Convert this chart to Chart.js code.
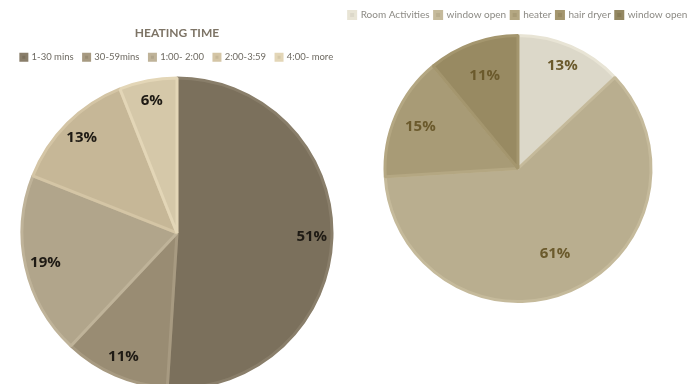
<!DOCTYPE html>
<html lang="en">
<head>
  <meta charset="UTF-8" />
  <title>Heating Time / Room Activities</title>
  <script src="https://cdn.jsdelivr.net/npm/chart.js"></script>
  <style>
    html, body {
      margin: 0;
      padding: 0;
      width: 688px;
      height: 384px;
      overflow: hidden;
      background: #ffffff;
    }
    #kiri, #kanan {
      position: absolute;
      top: 0;
    }
    #kiri { left: 0; }
    #kanan { left: 338px; }
  </style>
</head>
<body>
  <canvas id="kiri" width="354" height="400"></canvas>
  <canvas id="kanan" width="360" height="384"></canvas>

  <script>
    // Data pie kiri (heating time)
    const waktuLabels = ['1-30 mins', '30-59mins', '1:00- 2:00', '2:00-3:59', '4:00- more'];
    const waktuPersen = [51, 11, 19, 13, 6];
    const waktuWarna = ['#7b705c', '#998c73', '#b1a58b', '#c6b797', '#d5c8a9'];

    // Data pie kanan (room activities)
    const aktivitasLabels = ['Room Activities', 'window open', 'heater', 'hair dryer', 'window open'];
    const aktivitasPersen = [13, 61, 15, 11, 0];
    const aktivitasWarna = ['#dcd8c9', '#b9ae8f', '#a89b76', '#988a62', '#877b55'];

    // Plugin label persen di dalam irisan
    const labelPersen = {
      id: 'labelPersen',
      afterDatasetsDraw(chart, args, opts) {
        const ctx = chart.ctx;
        const meta = chart.getDatasetMeta(0);
        const data = chart.data.datasets[0].data;
        ctx.save();
        ctx.font = opts.font;
        ctx.fillStyle = opts.color;
        ctx.textAlign = 'center';
        ctx.textBaseline = 'middle';
        meta.data.forEach((arc, i) => {
          if (!data[i]) return;
          const f = Array.isArray(opts.factor) ? opts.factor[i] : opts.factor;
          const tengah = (arc.startAngle + arc.endAngle) / 2;
          const r = arc.outerRadius * f;
          ctx.fillText(data[i] + '%', arc.x + Math.cos(tengah) * r, arc.y + Math.sin(tengah) * r);
        });
        ctx.restore();
      }
    };

    function lebihTerang(hex, n) {
      const v = parseInt(hex.slice(1), 16);
      const r = Math.min(255, (v >> 16) + n);
      const g = Math.min(255, ((v >> 8) & 255) + n);
      const b = Math.min(255, (v & 255) + n);
      return `rgb(${r},${g},${b})`;
    }

    new Chart(document.getElementById('kiri'), {
      type: 'pie',
      data: {
        labels: waktuLabels,
        datasets: [{
          data: waktuPersen,
          backgroundColor: waktuWarna,
          borderColor: waktuWarna.map(c => lebihTerang(c, 14)),
          borderWidth: 3,
          radius: 155
        }]
      },
      options: {
        responsive: false,
        animation: false,
        layout: { padding: { top: 0, bottom: 6, left: 0, right: 0 } },
        plugins: {
          title: {
            display: true,
            text: 'HEATING TIME',
            color: '#7d7466',
            font: { family: 'Lato', size: 12, weight: 'bold' },
            padding: { top: 26, bottom: 2 }
          },
          legend: {
            position: 'top',
            labels: {
              boxWidth: 6,
              boxHeight: 6,
              padding: 10,
              color: '#6e6a62',
              font: { family: 'Lato', size: 9.5 }
            }
          },
          tooltip: { enabled: false },
          labelPersen: {
            font: 'bold 15px "Open Sans"',
            color: '#1e1a14',
            factor: 0.87
          }
        }
      },
      plugins: [labelPersen]
    });

    new Chart(document.getElementById('kanan'), {
      type: 'pie',
      data: {
        labels: aktivitasLabels,
        datasets: [{
          data: aktivitasPersen,
          backgroundColor: aktivitasWarna,
          borderColor: aktivitasWarna.map(c => lebihTerang(c, 12)),
          borderWidth: 3,
          radius: 133
        }]
      },
      options: {
        responsive: false,
        animation: false,
        layout: { padding: { top: 5, bottom: 77, left: 0, right: 0 } },
        plugins: {
          legend: {
            position: 'top',
            labels: {
              boxWidth: 7,
              boxHeight: 7,
              padding: 5,
              color: '#8c8a84',
              font: { family: 'Lato', size: 10 }
            }
          },
          tooltip: { enabled: false },
          labelPersen: {
            font: 'bold 15px "Open Sans"',
            color: '#6b5a2c',
            factor: [0.84, 0.7, 0.8, 0.74]
          }
        }
      },
      plugins: [labelPersen]
    });
  </script>
</body>
</html>
